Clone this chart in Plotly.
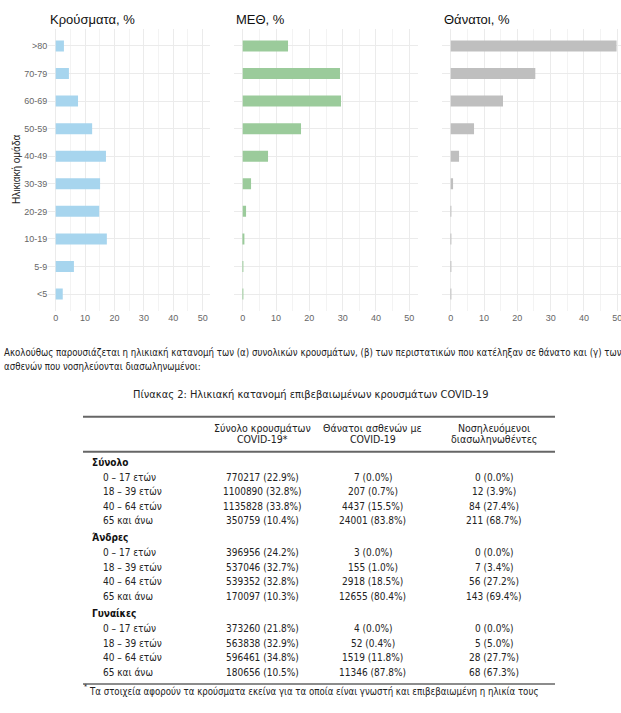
import plotly.graph_objects as go

# ---------------- data ----------------
age_groups = ["<5", "5-9", "10-19", "20-29", "30-39", "40-49", "50-59", "60-69", "70-79", ">80"]
cases_pct = [2.4, 6.2, 17.4, 14.8, 15.1, 17.1, 12.4, 7.6, 4.5, 2.8]
icu_pct = [0.2, 0.1, 0.3, 1.0, 2.5, 7.6, 17.5, 29.5, 29.2, 13.6]
deaths_pct = [0.05, 0.02, 0.05, 0.1, 0.7, 2.5, 7.0, 15.7, 25.4, 49.8]
panel_titles = ["Κρούσματα, %", "ΜΕΘ, %", "Θάνατοι, %"]
y_title = "Ηλικιακή ομάδα"
x_ticks = [0, 10, 20, 30, 40, 50]

paragraph_lines = [
    "Ακολούθως παρουσιάζεται η ηλικιακή κατανομή των (α) συνολικών κρουσμάτων, (β) των περιστατικών που κατέληξαν σε θάνατο και (γ) των",
    "ασθενών που νοσηλεύονται διασωληνωμένοι:",
]
table_title = "Πίνακας 2: Ηλικιακή κατανομή επιβεβαιωμένων κρουσμάτων COVID-19"
col_headers = [["Σύνολο κρουσμάτων", "COVID-19*"],
               ["Θάνατοι ασθενών με", "COVID-19"],
               ["Νοσηλευόμενοι", "διασωληνωθέντες"]]
table_groups = ["Σύνολο", "Άνδρες", "Γυναίκες"]
age_bands = ["0 – 17 ετών", "18 – 39 ετών", "40 – 64 ετών", "65 και άνω"]

total_cases = [770217, 1100890, 1135828, 350759]
total_cases_pct = [22.9, 32.8, 33.8, 10.4]
total_deaths = [7, 207, 4437, 24001]
total_deaths_pct = [0.0, 0.7, 15.5, 83.8]
total_intub = [0, 12, 84, 211]
total_intub_pct = [0.0, 3.9, 27.4, 68.7]

men_cases = [396956, 537046, 539352, 170097]
men_cases_pct = [24.2, 32.7, 32.8, 10.3]
men_deaths = [3, 155, 2918, 12655]
men_deaths_pct = [0.0, 1.0, 18.5, 80.4]
men_intub = [0, 7, 56, 143]
men_intub_pct = [0.0, 3.4, 27.2, 69.4]

women_cases = [373260, 563838, 596461, 180656]
women_cases_pct = [21.8, 32.9, 34.8, 10.5]
women_deaths = [4, 52, 1519, 11346]
women_deaths_pct = [0.0, 0.4, 11.8, 87.8]
women_intub = [0, 5, 28, 68]
women_intub_pct = [0.0, 5.0, 27.7, 67.3]

footnote = "Τα στοιχεία αφορούν τα κρούσματα εκείνα για τα οποία είναι γνωστή και επιβεβαιωμένη η ηλικία τους"

# ---------------- layout helpers ----------------
W, H = 621, 713
def px(x):
    return x / W
def py(y):
    return 1 - y / H

CHART_FONT = "Liberation Sans, Arial, Helvetica, sans-serif"
DOC_FONT = "DejaVu Sans Condensed, Liberation Sans Narrow, Roboto, sans-serif"
colors = ["#a7d5ee", "#9bcb9b", "#bfbfbf"]

fig = go.Figure()
series = [cases_pct, icu_pct, deaths_pct]
panels = [((48.35, 210.0), [-2.5, 52.5]),
          ((234.4, 417.6), [-2.5, 52.5]),
          ((442.4, 621.0), [-2.5, -2.5 + (621.0 - 442.4) / 3.33])]
y_top, y_bot = 29.4, 310.6

for i, (vals, ((l, r), xr)) in enumerate(zip(series, panels)):
    sfx = "" if i == 0 else str(i + 1)
    fig.add_trace(go.Bar(
        x=vals, y=age_groups, orientation="h",
        marker=dict(color=colors[i], line=dict(width=0)),
        width=0.4, xaxis="x" + sfx, yaxis="y" + sfx,
        showlegend=False, hoverinfo="x+y",
    ))
    fig.layout["xaxis" + sfx] = dict(
        domain=[px(l), px(r)], range=xr, anchor="y" + sfx,
        tickvals=x_ticks, showgrid=True, gridcolor="#ebebeb", gridwidth=1,
        minor=dict(dtick=5, showgrid=True, gridcolor="#f3f3f3", gridwidth=0.7),
        zeroline=False, showline=False, ticks="",
        ticklabeloverflow="allow",
        tickfont=dict(size=9, color="#666666", family=CHART_FONT),
        fixedrange=True,
    )
    fig.layout["yaxis" + sfx] = dict(
        domain=[py(y_bot), py(y_top)], range=[-0.6, 9.6], anchor="x" + sfx,
        type="category", categoryorder="array", categoryarray=age_groups,
        showgrid=True, gridcolor="#ebebeb", gridwidth=1,
        zeroline=False, showline=False, ticks="",
        showticklabels=(i == 0),
        tickfont=dict(size=9, color="#666666", family=CHART_FONT),
        fixedrange=True,
    )
    fig.add_annotation(x=px(l - 0.3), y=py(19.5), xref="paper", yref="paper",
                       text=panel_titles[i], showarrow=False, xanchor="left", yanchor="middle",
                       font=dict(size=13, color="#111111", family=CHART_FONT))

fig.add_annotation(x=px(16), y=py((y_top + y_bot) / 2), xref="paper", yref="paper",
                   text=y_title, textangle=-90, showarrow=False,
                   xanchor="center", yanchor="middle",
                   font=dict(size=10, color="#222222", family=CHART_FONT))

# ---------------- paragraph text ----------------
for k, line in enumerate(paragraph_lines):
    fig.add_annotation(x=px(2), y=py(352 + 14 * k), xref="paper", yref="paper",
                       text=line, showarrow=False, xanchor="left", yanchor="middle",
                       font=dict(size=9.6, color="#222222", family=DOC_FONT))
fig.add_annotation(x=px(310.5), y=py(395), xref="paper", yref="paper",
                   text=table_title, showarrow=False, xanchor="center", yanchor="middle",
                   font=dict(size=11, color="#222222", family=DOC_FONT))

# ---------------- table ----------------
tbl_l, tbl_r = 83, 555
for yy, w in [(416.7, 2), (451.7, 2), (684, 1.5)]:
    fig.add_shape(type="line", xref="paper", yref="paper",
                  x0=px(tbl_l), x1=px(tbl_r), y0=py(yy), y1=py(yy),
                  line=dict(color="#666666", width=w))

col_x = [262, 372.5, 493.5]
for cx, hdr in zip(col_x, col_headers):
    for k, t in enumerate(hdr):
        fig.add_annotation(x=px(cx), y=py(427.7 + 11.5 * k), xref="paper", yref="paper",
                           text=t, showarrow=False, xanchor="center", yanchor="middle",
                           font=dict(size=10.5, color="#222222", family=DOC_FONT))

group_data = [
    [(total_cases, total_cases_pct), (total_deaths, total_deaths_pct), (total_intub, total_intub_pct)],
    [(men_cases, men_cases_pct), (men_deaths, men_deaths_pct), (men_intub, men_intub_pct)],
    [(women_cases, women_cases_pct), (women_deaths, women_deaths_pct), (women_intub, women_intub_pct)],
]
for g, (gname, cols) in enumerate(zip(table_groups, group_data)):
    gy = 462 + 75.7 * g
    fig.add_annotation(x=px(90), y=py(gy), xref="paper", yref="paper",
                       text="<b>" + gname + "</b>", showarrow=False, xanchor="left", yanchor="middle",
                       font=dict(size=10, color="#111111", family=DOC_FONT))
    for k, band in enumerate(age_bands):
        ry = gy + 15 + 14.6 * k
        fig.add_annotation(x=px(101), y=py(ry), xref="paper", yref="paper",
                           text=band, showarrow=False, xanchor="left", yanchor="middle",
                           font=dict(size=10, color="#222222", family=DOC_FONT))
        for cx, (vals, pcts) in zip(col_x, cols):
            fig.add_annotation(x=px(cx), y=py(ry), xref="paper", yref="paper",
                               text=f"{vals[k]} ({pcts[k]:.1f}%)", showarrow=False,
                               xanchor="center", yanchor="middle",
                               font=dict(size=10, color="#222222", family=DOC_FONT))

fig.add_annotation(x=px(82), y=py(687), xref="paper", yref="paper",
                   text="*", showarrow=False, xanchor="left", yanchor="middle",
                   font=dict(size=7, color="#222222", family=DOC_FONT))
fig.add_annotation(x=px(87), y=py(691.5), xref="paper", yref="paper",
                   text=footnote, showarrow=False, xanchor="left", yanchor="middle",
                   font=dict(size=9.6, color="#222222", family=DOC_FONT))

fig.update_layout(
    width=W, height=H, margin=dict(l=0, r=0, t=0, b=0),
    paper_bgcolor="white", plot_bgcolor="white",
    bargap=0.6,
)

fig.write_html("out.html", config={"displayModeBar": False},
               post_script="document.body.style.margin='0';document.body.style.overflow='hidden';")
